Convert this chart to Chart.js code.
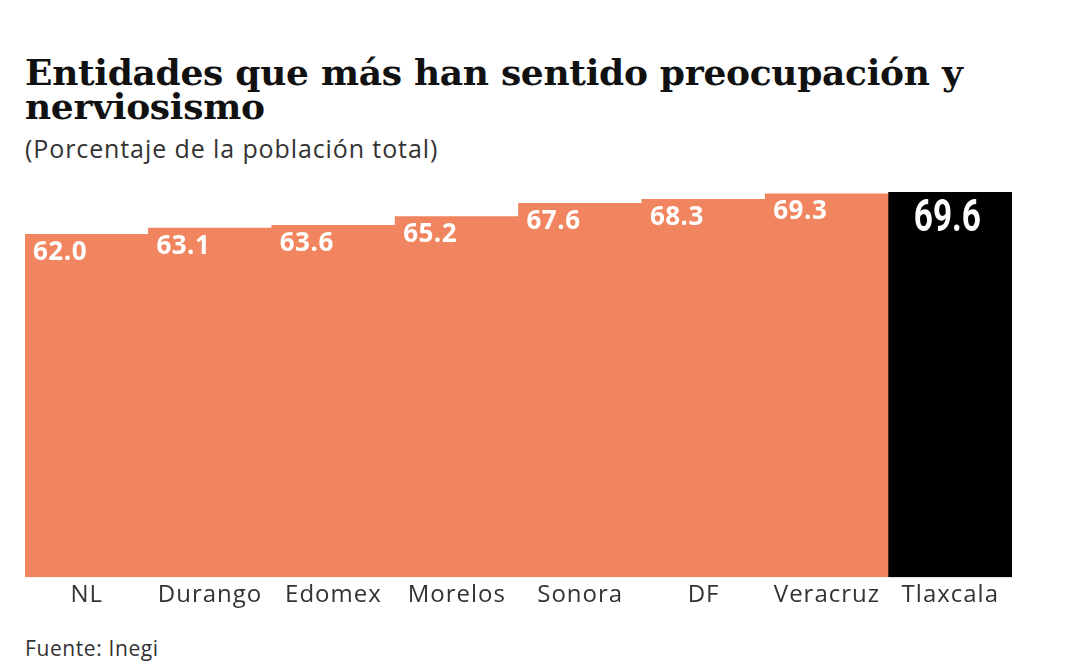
<!DOCTYPE html>
<html>
<head>
<meta charset="utf-8">
<script src="https://cdn.jsdelivr.net/npm/chart.js@4/dist/chart.umd.min.js"></script>
<style>
  body { margin: 0; background: #fff; width: 1081px; height: 666px; position: relative; overflow: hidden; }
  #titulo { position: absolute; left: 25px; top: 55px; margin: 0; font: bold 36px "DejaVu Serif", serif; line-height: 34px; color: #111; letter-spacing: -0.3px; }
  #subtitulo { position: absolute; left: 25px; top: 131px; font: 25px "Open Sans", sans-serif; color: #333; letter-spacing: 0.9px; }
  #fuente { position: absolute; left: 25px; top: 634px; font: 21px "Open Sans", sans-serif; color: #333; letter-spacing: 0.6px; }
  #caja { position: absolute; left: 0; top: 180px; width: 1081px; height: 434px; }
</style>
</head>
<body>
<h1 id="titulo">Entidades que más han sentido preocupación y<br>nerviosismo</h1>
<div id="subtitulo">(Porcentaje de la población total)</div>
<div id="caja"><canvas id="grafico"></canvas></div>
<div id="fuente">Fuente: Inegi</div>
<script>
const entidades = ['NL', 'Durango', 'Edomex', 'Morelos', 'Sonora', 'DF', 'Veracruz', 'Tlaxcala'];
const porcentajes = [62.0, 63.1, 63.6, 65.2, 67.6, 68.3, 69.3, 69.6];
const destacada = 'Tlaxcala';

const colores = entidades.map(e => e === destacada ? '#000000' : '#F0855F');

// letras un poco más abiertas en los rótulos del eje
const espaciado = {
  id: 'espaciado',
  beforeDraw(chart) { chart.ctx.letterSpacing = '1px'; },
  afterDraw(chart) { chart.ctx.letterSpacing = '0px'; }
};

const etiquetas = {
  id: 'etiquetas',
  afterDatasetsDraw(chart) {
    const ctx = chart.ctx;
    const barras = chart.getDatasetMeta(0).data;
    ctx.save();
    ctx.fillStyle = '#ffffff';
    ctx.textBaseline = 'middle';
    barras.forEach((barra, i) => {
      const valor = porcentajes[i].toFixed(1);
      if (entidades[i] === destacada) {
        ctx.letterSpacing = '0px';
        ctx.font = 'bold 45px Roboto, sans-serif';
        ctx.textAlign = 'center';
        ctx.save();
        ctx.translate(barra.x - 3, barra.y + 28);
        ctx.scale(0.74, 1);
        ctx.fillText(valor, 0, 0);
        ctx.restore();
      } else {
        ctx.letterSpacing = '0.5px';
        ctx.font = 'bold 26px "Open Sans", sans-serif';
        ctx.textAlign = 'left';
        ctx.fillText(valor, barra.x - barra.width / 2 + 8, barra.y + 18);
      }
    });
    ctx.restore();
  }
};

new Chart(document.getElementById('grafico').getContext('2d'), {
  type: 'bar',
  data: {
    labels: entidades,
    datasets: [{
      data: porcentajes,
      backgroundColor: colores,
      barPercentage: 1,
      categoryPercentage: 1,
      borderWidth: 0
    }]
  },
  options: {
    responsive: true,
    maintainAspectRatio: false,
    animation: false,
    layout: { padding: { left: 25, right: 69, top: 10, bottom: 0 } },
    plugins: {
      legend: { display: false },
      tooltip: { enabled: false }
    },
    scales: {
      x: {
        grid: { display: false, drawTicks: false },
        border: { display: false },
        ticks: {
          color: '#333',
          padding: 4,
          font: { family: '"Open Sans", sans-serif', size: 24 }
        }
      },
      y: {
        display: false,
        min: 0,
        max: 70
      }
    }
  },
  plugins: [espaciado, etiquetas]
});
</script>
</body>
</html>
